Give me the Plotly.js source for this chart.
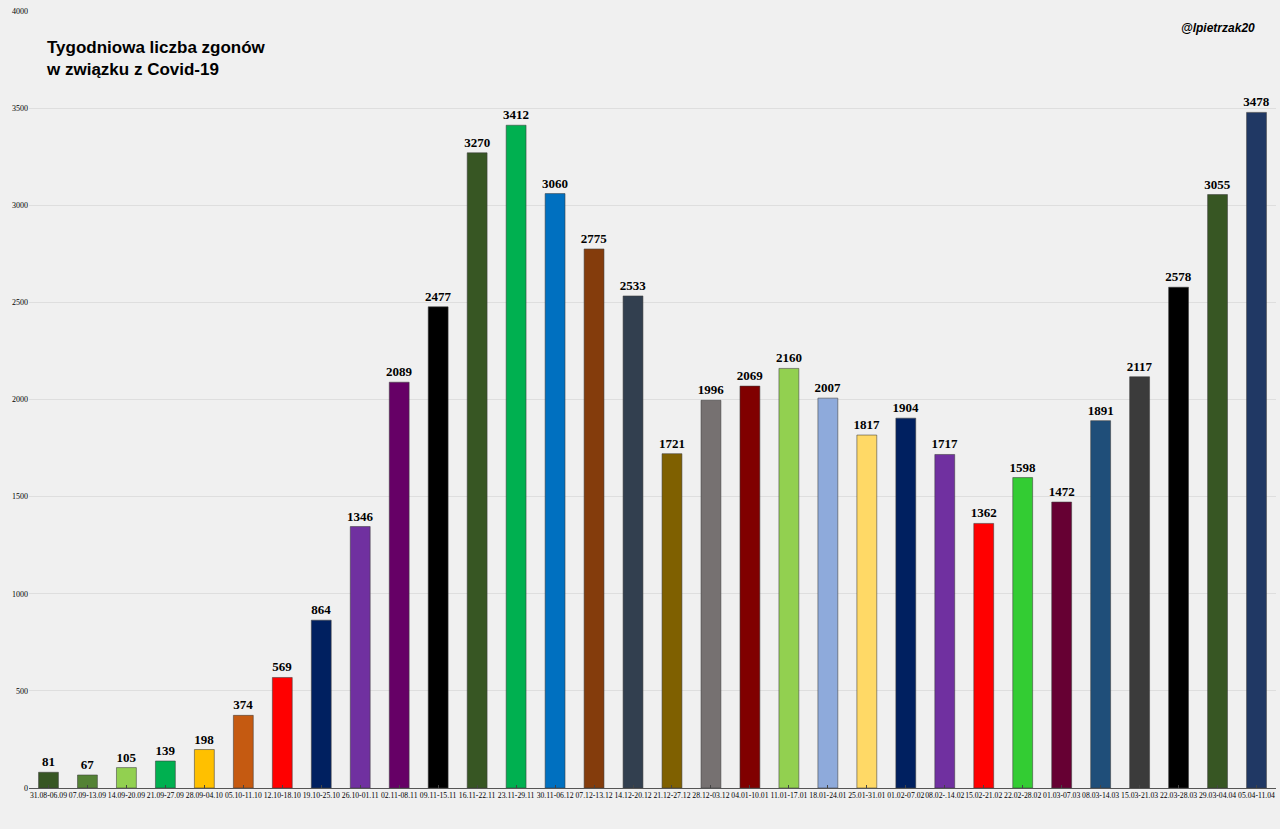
<!DOCTYPE html>
<html><head><meta charset="utf-8">
<script src="https://cdn.plot.ly/plotly-3.0.1.min.js"></script>
<style>html,body{margin:0;padding:0;background:#f0f0f0;}#chart{width:1280px;height:829px;}</style>
</head><body><div id="chart"></div>
<script>
const weeks = ["31.08-06.09","07.09-13.09","14.09-20.09","21.09-27.09","28.09-04.10","05.10-11.10","12.10-18.10","19.10-25.10","26.10-01.11","02.11-08.11","09.11-15.11","16.11-22.11","23.11-29.11","30.11-06.12","07.12-13.12","14.12-20.12","21.12-27.12","28.12-03.12","04.01-10.01","11.01-17.01","18.01-24.01","25.01-31.01","01.02-07.02","08.02-.14.02","15.02-21.02","22.02-28.02","01.03-07.03","08.03-14.03","15.03-21.03","22.03-28.03","29.03-04.04","05.04-11.04"];
const deaths = [81,67,105,139,198,374,569,864,1346,2089,2477,3270,3412,3060,2775,2533,1721,1996,2069,2160,2007,1817,1904,1717,1362,1598,1472,1891,2117,2578,3055,3478];
const barColors = ["#375623","#548235","#92d050","#00b050","#ffc000","#c55a11","#ff0000","#002060","#7030a0","#660066","#000000","#375623","#00b050","#0070c0","#843c0c","#323f4f","#7f6000","#767171","#800000","#92d050","#8eaadb","#ffd966","#002060","#7030a0","#ff0000","#33cc33","#660033","#1f4e79","#3b3b3b","#000000","#375623","#203864"];
const yTicks = [0,500,1000,1500,2000,2500,3000,3500,4000];

const trace = {
  type: 'bar', x: weeks, y: deaths,
  marker: {color: barColors, line: {color: 'rgba(60,60,60,0.55)', width: 1}},
  text: deaths.map(String), textposition: 'outside', constraintext: 'none', cliponaxis: false,
  textfont: {family: 'Liberation Serif, Times New Roman, serif', size: 13, color: '#000', weight: 'bold'},
  hoverinfo: 'x+y'
};
const layout = {
  width: 1280, height: 829,
  paper_bgcolor: '#f0f0f0', plot_bgcolor: '#f0f0f0',
  margin: {l: 29, r: 4, t: 11, b: 41},
  bargap: 0.49, showlegend: false,
  xaxis: {type: 'category', tickfont: {family: 'Liberation Serif, Times New Roman, serif', size: 7.7, color: '#000'},
    tickangle: 0, ticks: 'inside', ticklen: 3, tickcolor: '#444', showline: true, linecolor: '#555', linewidth: 1,
    showgrid: false, automargin: false},
  yaxis: {range: [0, 4000], tickvals: yTicks, ticktext: yTicks.map(String),
    tickfont: {family: 'Liberation Serif, Times New Roman, serif', size: 8, color: '#000'},
    showgrid: true, gridcolor: '#dedede', gridwidth: 1, zeroline: false, showline: false, ticks: '', automargin: false},
  annotations: [
    {xref: 'paper', yref: 'paper', x: 0.012, y: 0.968, xanchor: 'left', yanchor: 'top', align: 'left', showarrow: false,
     text: '<b>Tygodniowa liczba zgonów<br>w związku z Covid-19</b>',
     font: {family: 'Liberation Sans, Arial, sans-serif', size: 17, color: '#000'}},
    {xref: 'paper', yref: 'paper', x: 0.985, y: 0.99, xanchor: 'right', yanchor: 'top', showarrow: false,
     text: '<b><i>@lpietrzak20</i></b>',
     font: {family: 'Liberation Sans, Arial, sans-serif', size: 12, color: '#000'}}
  ]
};
Plotly.newPlot('chart', [trace], layout, {displayModeBar: false, staticPlot: true});
</script></body></html>
